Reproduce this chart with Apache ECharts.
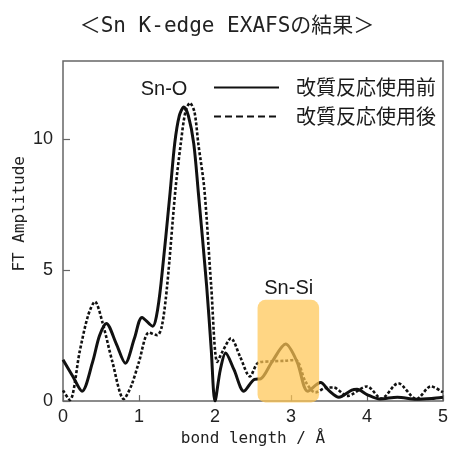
<!DOCTYPE html>
<html>
<head>
<meta charset="utf-8">
<script src="https://cdn.jsdelivr.net/npm/echarts@6/dist/echarts.min.js"></script>
<style>
  html, body { margin: 0; padding: 0; background: #fff; }
  #chart { width: 451px; height: 452px; }
</style>
</head>
<body>
<div id="chart"></div>
<script>
// 改質反応使用前 (solid)
const beforeData = [
  [0, 1.58], [0.13, 0.94], [0.25, 0.38], [0.39, 1.5], [0.48, 2.5], [0.57, 2.97],
  [0.7, 2.2], [0.82, 1.45], [0.94, 2.4], [1.04, 3.2], [1.18, 2.86], [1.23, 3.25],
  [1.29, 4.5], [1.41, 8.0], [1.47, 9.85], [1.53, 10.9], [1.59, 11.24], [1.65, 10.9],
  [1.72, 9.85], [1.78, 8.0], [1.89, 4.4], [1.95, 2.0], [2.0, 0], [2.07, 1.2], [2.14, 1.84],
  [2.25, 1.2], [2.38, 0.38], [2.52, 0.83], [2.6, 0.85], [2.75, 1.5], [2.93, 2.18],
  [3.08, 1.5], [3.22, 0.38], [3.39, 0.71], [3.5, 0.4], [3.63, 0.15], [3.8, 0.42],
  [3.87, 0.45], [4.0, 0.25], [4.17, 0.08], [4.4, 0.15], [4.65, 0.07], [4.85, 0.1],
  [5.0, 0.15]
];
// 改質反応使用後 (dotted)
const afterData = [
  [0, 0.41], [0.09, 0.04], [0.22, 1.9], [0.33, 3.27], [0.42, 3.8], [0.52, 3.0],
  [0.65, 1.5], [0.8, 0.08], [0.9, 0.6], [1.0, 1.5], [1.13, 2.62], [1.24, 2.52],
  [1.3, 2.85], [1.37, 4.4], [1.48, 8.1], [1.55, 9.85], [1.61, 11.05], [1.67, 11.4],
  [1.73, 11.05], [1.78, 9.85], [1.86, 8.1], [1.95, 4.4], [2.03, 1.5],
  [2.1, 1.9], [2.21, 2.4], [2.33, 1.7], [2.46, 0.94], [2.57, 1.47], [2.75, 1.52],
  [2.92, 1.54], [3.06, 1.58], [3.19, 0.75], [3.32, 0.33], [3.45, 0.5], [3.56, 0.52],
  [3.74, 0.2], [4.0, 0.56], [4.19, 0.1], [4.41, 0.68], [4.65, 0.08], [4.84, 0.56],
  [5.0, 0.34]
];
const seriesNames = ['改質反応使用前', '改質反応使用後'];
// Sn-Si highlight: [xStart, xEnd, yBottom, yTop]
const highlightBox = [[2.56, 3.37, -0.05, 3.87]];
const annotations = [[1.33, 11.9, 'Sn-O'], [2.97, 4.29, 'Sn-Si']];

const chart = echarts.init(document.getElementById('chart'));
const tickFont = "'Liberation Sans Narrow', 'Liberation Sans', sans-serif";
const monoFont = "'DejaVu Sans Mono', 'Liberation Mono', monospace";

chart.setOption({
  animation: false,
  title: {
    text: '＜Sn K-edge EXAFSの結果＞',
    left: 222,
    textAlign: 'center',
    top: 11,
    textStyle: { fontSize: 21, fontWeight: 'normal', color: '#222', fontFamily: "'DejaVu Sans Mono', 'Noto Sans CJK JP', monospace" }
  },
  grid: {
    left: 63, right: 4, top: 61, bottom: 45,
    show: true, borderColor: '#666', borderWidth: 1.5
  },
  legend: {
    orient: 'vertical',
    left: 208,
    top: 72,
    itemWidth: 65,
    itemHeight: 12,
    itemGap: 8,
    itemStyle: { opacity: 0 },
    textStyle: { fontSize: 20, color: '#1a1a1a', lineHeight: 21, padding: [0, 0, 0, 12], fontFamily: "'Noto Sans CJK JP', sans-serif" },
    data: [
      { name: seriesNames[0] },
      { name: seriesNames[1], lineStyle: { type: [7, 4] } }
    ]
  },
  xAxis: {
    type: 'value',
    min: 0, max: 5, interval: 1,
    name: 'bond length / Å',
    nameLocation: 'middle',
    nameGap: 28,
    nameTextStyle: { fontSize: 16, color: '#222', fontFamily: monoFont },
    axisLine: { show: false },
    axisTick: { inside: true, length: 6, lineStyle: { color: '#666', width: 1.2 } },
    axisLabel: { fontSize: 18, color: '#222', margin: 7, fontFamily: tickFont },
    splitLine: { show: false }
  },
  yAxis: {
    type: 'value',
    min: 0, max: 13, interval: 5,
    axisLine: { show: false },
    axisTick: { inside: true, length: 7, lineStyle: { color: '#666', width: 1.2 } },
    axisLabel: { fontSize: 18, color: '#222', margin: 10, fontFamily: tickFont, showMaxLabel: false },
    splitLine: { show: false }
  },
  graphic: [{
    type: 'text',
    left: 12, top: 156,
    rotation: Math.PI / 2,
    style: { text: 'FT Amplitude', fontSize: 16, fill: '#222', fontFamily: monoFont }
  }],
  series: [
    {
      name: seriesNames[0],
      type: 'line',
      data: beforeData,
      smooth: 0.3,
      symbol: 'none',
      lineStyle: { color: '#111', width: 3 },
      itemStyle: { color: '#111' },
      z: 2
    },
    {
      name: seriesNames[1],
      type: 'line',
      data: afterData,
      smooth: 0.3,
      symbol: 'none',
      lineStyle: { color: '#111', width: 2.6, type: [3, 2] },
      itemStyle: { color: '#111' },
      z: 2
    },
    {
      type: 'custom',
      data: highlightBox,
      z: 3,
      silent: true,
      renderItem: function (params, api) {
        const p0 = api.coord([api.value(0), api.value(3)]);
        const p1 = api.coord([api.value(1), api.value(2)]);
        return {
          type: 'rect',
          shape: { x: p0[0], y: p0[1], width: p1[0] - p0[0], height: p1[1] - p0[1], r: 8 },
          style: { fill: 'rgba(255, 198, 85, 0.72)' }
        };
      }
    },
    {
      type: 'custom',
      data: annotations,
      z: 4,
      silent: true,
      renderItem: function (params, api) {
        const p = api.coord([api.value(0), api.value(1)]);
        return {
          type: 'text',
          x: p[0], y: p[1],
          style: {
            text: annotations[params.dataIndex][2],
            fontSize: 20,
            fill: '#1a1a1a',
            fontFamily: "'Liberation Sans', sans-serif",
            align: 'center',
            verticalAlign: 'middle'
          }
        };
      }
    }
  ]
});
</script>
</body>
</html>
